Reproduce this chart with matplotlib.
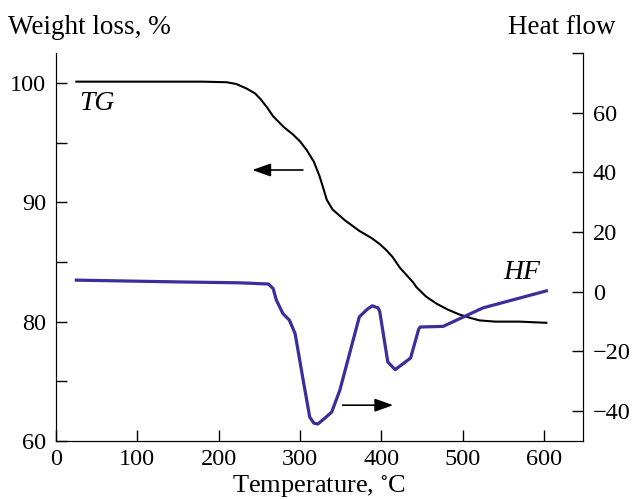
import matplotlib
matplotlib.use('Agg')
import matplotlib.pyplot as plt

# TG curve (weight loss, %)
tg_temp = [25, 100, 180, 210, 222, 235, 245, 252, 260, 267, 280, 291, 300, 308, 317,
           324, 329, 333, 340, 355, 373, 388, 398, 406, 414, 423, 439, 443, 455, 468,
           482, 496, 510, 521, 540, 570, 603]
tg_weight = [100.1, 100.1, 100.1, 100.05, 99.9, 99.5, 99.1, 98.6, 97.9, 97.2, 96.3,
             95.7, 95.1, 94.4, 93.4, 92.2, 91.1, 90.2, 89.4, 88.5, 87.6, 87.0, 86.5,
             86.0, 85.4, 84.5, 83.3, 82.9, 82.1, 81.5, 81.0, 80.6, 80.3, 80.1, 80.0,
             80.0, 79.9]

# HF curve (heat flow)
hf_temp = [25, 150, 226, 261, 267, 271, 279, 287, 294, 304, 312, 317, 322, 330, 339,
           349, 373, 383, 389, 396, 398, 408, 417, 436, 446, 448, 476, 525, 603]
hf_flow = [3.9, 3.3, 3.0, 2.6, 1.1, -2.8, -7.3, -9.5, -14, -29.7, -42, -44, -44.3, -42.5,
           -40.3, -33, -8.4, -5.8, -4.7, -5.4, -6.5, -23.5, -26.1, -22.2, -12.5, -11.8,
           -11.6, -5.4, 0.3]

left_ticks = [70, 80, 90, 100]
left_labels = ['60', '80', '90', '100']
left_minor = [75, 85, 95]
right_ticks = [-40, -20, 0, 20, 40, 60, 80]
right_labels = ['\u221240', '\u221220', '0', '20', '40', '60', '']
x_ticks = [0, 100, 200, 300, 400, 500, 600]

plt.rcParams['font.family'] = ['Liberation Serif', 'DejaVu Serif']
plt.rcParams['font.size'] = 17.5
plt.rcParams['mathtext.fontset'] = 'stix'

fig = plt.figure(figsize=(6.37, 5.0), dpi=100)
ax = fig.add_axes([0.0879, 0.118, 0.8273, 0.776])
ax2 = ax.twinx()

ax.plot(tg_temp, tg_weight, color='black', lw=1.5)
ax2.plot(hf_temp, hf_flow, color='#3a2d9c', lw=2.3)

ax.set_xlim(0, 648)
ax.set_ylim(70, 102.5)
ax2.set_ylim(-50, 80)

ax.set_xticks(x_ticks)
ax.set_yticks(left_ticks)
ax.set_yticklabels(left_labels)
ax.set_yticks(left_minor, minor=True)
ax2.set_yticks(right_ticks)
ax2.set_yticklabels(right_labels)

for a in (ax, ax2):
    a.spines['top'].set_visible(False)
    a.tick_params(direction='in', length=8, width=1, pad=7)
    a.tick_params(which='minor', direction='in', length=8, width=1)
ax.tick_params(axis='x', pad=6)

ax.set_xlabel('Temperature, $^{\\circ}$C', fontsize=19)
ax.xaxis.set_label_coords(0.5, -0.117)
ax.xaxis.label.set_va('center')

fig.text(0.013, 0.945, 'Weight loss, %', ha='left', va='center', fontsize=19.5)
fig.text(0.966, 0.945, 'Heat flow', ha='right', va='center', fontsize=19.5)

ax.text(29, 98.3, 'TG', style='italic', ha='left', va='center', fontsize=20)
ax2.text(596, 6.5, 'HF', style='italic', ha='right', va='center', fontsize=20)

ax.annotate('', xy=(238, 92.7), xytext=(307, 92.7),
            arrowprops=dict(arrowstyle='-|>,head_length=0.7,head_width=0.25',
                            color='black', lw=1.2, mutation_scale=16))
ax2.annotate('', xy=(418, -38), xytext=(349, -38),
             arrowprops=dict(arrowstyle='-|>,head_length=0.7,head_width=0.25',
                             color='black', lw=1.2, mutation_scale=16))

fig.savefig('out.png', dpi=100)
